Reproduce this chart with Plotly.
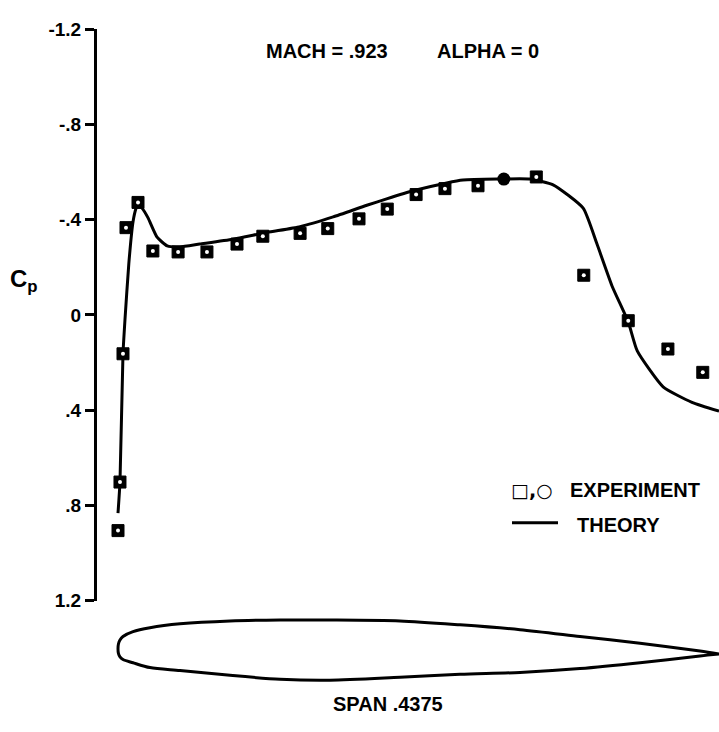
import plotly.graph_objects as go

W, H = 719, 732

# ---- data (x/c, Cp) ----
exp_sq_x = [0.0, 0.0033, 0.0083, 0.0133, 0.0333, 0.058, 0.100, 0.148, 0.198, 0.241,
            0.303, 0.349, 0.401, 0.448, 0.496, 0.544, 0.599, 0.696, 0.775, 0.849,
            0.915, 0.973]
exp_sq_cp = [0.906, 0.702, 0.163, -0.367, -0.473, -0.269, -0.265, -0.265, -0.298, -0.331,
             -0.343, -0.363, -0.404, -0.445, -0.506, -0.531, -0.543, -0.580, -0.167, 0.024,
             0.143, 0.241]
exp_ci_x = [0.642]
exp_ci_cp = [-0.571]

theory_x = [0.0, 0.0033, 0.0083, 0.0116, 0.018, 0.025, 0.030, 0.033, 0.040, 0.050,
            0.065, 0.082, 0.103, 0.136, 0.191, 0.248, 0.303, 0.358, 0.414, 0.447,
            0.491, 0.547, 0.574, 0.631, 0.686, 0.724, 0.774, 0.797, 0.822, 0.849,
            0.864, 0.907, 0.955, 1.0]
theory_cp = [0.833, 0.702, 0.163, 0.02, -0.216, -0.392, -0.449, -0.465, -0.449, -0.408,
             -0.327, -0.29, -0.286, -0.298, -0.318, -0.347, -0.371, -0.412, -0.461, -0.488,
             -0.522, -0.555, -0.567, -0.571, -0.571, -0.547, -0.449, -0.298, -0.122, 0.029,
             0.151, 0.302, 0.367, 0.404]

# airfoil section (x/c, z/c)
foil_x = [0.0, 0.0008, 0.0033, 0.0083, 0.025, 0.0532, 0.1032, 0.1864, 0.2696, 0.3527,
          0.4692, 0.5691, 0.6689, 0.7687, 0.8686, 0.9684, 1.0]
foil_upper = [0.004, 0.0125, 0.0190, 0.025, 0.0333, 0.0399, 0.0466, 0.0516, 0.0532, 0.0532,
              0.0516, 0.0449, 0.0366, 0.025, 0.0133, 0.0, -0.005]
foil_lower = [0.004, -0.0045, -0.0100, -0.0145, -0.02, -0.0283, -0.0333, -0.0416, -0.0483, -0.0499,
              -0.0449, -0.0399, -0.0366, -0.03, -0.02, -0.0083, -0.005]

tick_vals = [-1.2, -0.8, -0.4, 0, 0.4, 0.8, 1.2]
tick_text = ["-1.2", "-.8", "-.4", "0", ".4", ".8", "1.2"]

FONT = "Liberation Sans, Arial, sans-serif"

def px_x(p):
    return p / W

def px_y(p):
    return 1 - p / H

fig = go.Figure()

fig.add_trace(go.Scatter(x=theory_x, y=theory_cp, mode="lines",
                         line=dict(color="black", width=3, shape="spline", smoothing=0.5),
                         showlegend=False, cliponaxis=False))
fig.add_trace(go.Scatter(x=exp_sq_x, y=exp_sq_cp, mode="markers",
                         marker=dict(symbol="square", size=12, color="black",
                                     line=dict(width=1, color="black")),
                         showlegend=False, cliponaxis=False))
fig.add_trace(go.Scatter(x=exp_sq_x, y=exp_sq_cp, mode="markers",
                         marker=dict(symbol="circle", size=4, color="white"),
                         showlegend=False, cliponaxis=False))
fig.add_trace(go.Scatter(x=exp_ci_x, y=exp_ci_cp, mode="markers",
                         marker=dict(symbol="circle", size=13, color="black"),
                         showlegend=False, cliponaxis=False))
fig.add_trace(go.Scatter(x=foil_x + foil_x[::-1], y=foil_upper + foil_lower[::-1],
                         mode="lines", yaxis="y2",
                         line=dict(color="black", width=3, shape="spline", smoothing=0.8),
                         showlegend=False, cliponaxis=False))

chord_px = 601.0
x0_px = 118.0
dom_left = 97.0
x_min = -(x0_px - dom_left) / chord_px
y2_top, y2_bot = 620.0, 700.0
half = (y2_bot - y2_top) / 2 / chord_px

fig.update_layout(
    width=W, height=H,
    margin=dict(l=0, r=0, t=0, b=0),
    paper_bgcolor="white", plot_bgcolor="white",
    showlegend=False,
    xaxis=dict(domain=[px_x(dom_left), 1.0], range=[x_min, 1.0], visible=False),
    yaxis=dict(domain=[px_y(608), px_y(20)], range=[1.2, -1.2],
               tickvals=tick_vals, ticktext=tick_text,
               showline=True, linewidth=3, linecolor="black",
               ticks="outside", ticklen=9, tickwidth=2.5, tickcolor="black",
               showgrid=False, zeroline=False,
               tickfont=dict(family=FONT, size=19, color="black", weight="bold")),
    yaxis2=dict(domain=[px_y(y2_bot), px_y(y2_top)], range=[-half, half],
                anchor="x", visible=False),
)

def ann(text, x, y, size=20, xanchor="center", family=FONT):
    fig.add_annotation(text=text, x=px_x(x), y=px_y(y), xref="paper", yref="paper",
                       showarrow=False, xanchor=xanchor, yanchor="middle",
                       font=dict(family=family, size=size, color="black", weight="bold"))

ann("MACH = .923", 327, 42)
ann("ALPHA = 0", 488, 42)
ann("C<sub>p</sub>", 24, 278, size=24)
ann("□,○", 509, 494, size=19, xanchor="left", family="DejaVu Sans, sans-serif")
ann("EXPERIMENT", 568, 494, xanchor="left")
ann("THEORY", 575, 530, xanchor="left")
ann("SPAN .4375", 388, 715)

fig.add_shape(type="line", xref="paper", yref="paper",
              x0=px_x(512), x1=px_x(558), y0=px_y(528), y1=px_y(528),
              line=dict(color="black", width=3))

fig.write_html("out.html")
